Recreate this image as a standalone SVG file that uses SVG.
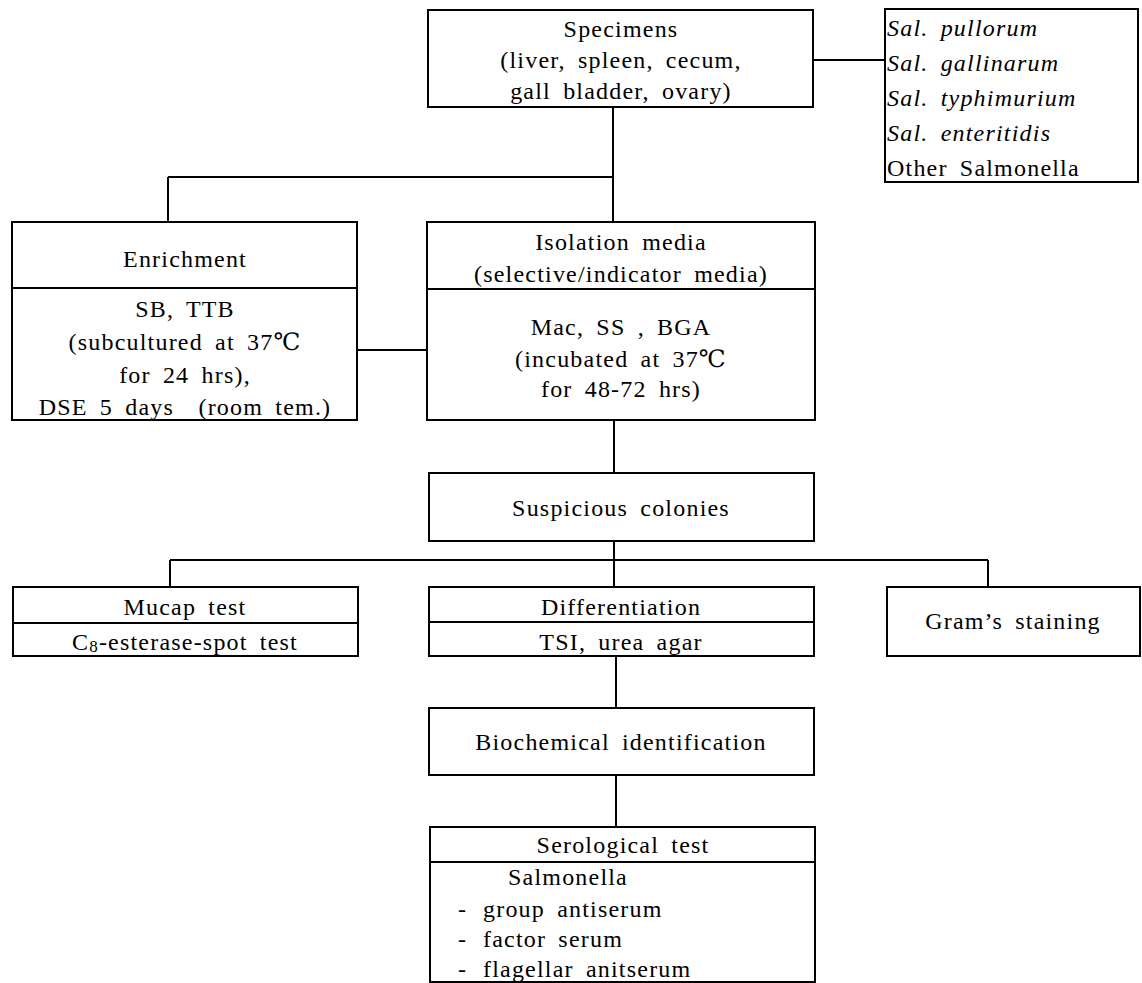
<svg xmlns="http://www.w3.org/2000/svg" width="1142" height="983" viewBox="0 0 1142 983">
<style>
.b{fill:#fff;stroke:#000;stroke-width:2}
.d{stroke:#000;stroke-width:2;fill:none}
.t text{font-size:24px;fill:#000;letter-spacing:1.2px;word-spacing:5px}
.c{text-anchor:middle}
.i{font-style:italic}
</style>
<rect width="1142" height="983" fill="#fff"/>
<g id="connectors" class="d">
<path d="M813,60H885"/>
<path d="M613,107V222"/>
<path d="M168,177H613"/>
<path d="M168,177V222"/>
<path d="M357,350H427"/>
<path d="M614,420V473"/>
<path d="M614,541V587"/>
<path d="M170,560H988"/>
<path d="M170,560V587"/>
<path d="M988,560V587"/>
<path d="M616,656V708"/>
<path d="M616,775V827"/>
</g>
<g class="t" font-family="'Liberation Serif', 'DejaVu Serif', serif">
<g id="specimens">
<rect class="b" x="428" y="10" width="385" height="97"/>
<text class="c" x="621" y="37">Specimens</text>
<text class="c" x="621" y="68">(liver, spleen, cecum,</text>
<text class="c" x="621" y="99">gall bladder, ovary)</text>
</g>
<g id="species">
<rect class="b" x="885" y="9" width="253" height="173"/>
<text x="887" y="36" class="i">Sal. pullorum</text>
<text x="887" y="71" class="i">Sal. gallinarum</text>
<text x="887" y="106" class="i">Sal. typhimurium</text>
<text x="887" y="141" class="i">Sal. enteritidis</text>
<text x="887" y="176">Other Salmonella</text>
</g>
<g id="enrichment">
<rect class="b" x="12" y="222" width="345" height="198"/>
<path class="d" d="M12,288H357"/>
<text class="c" x="185" y="267">Enrichment</text>
<text class="c" x="185" y="317">SB, TTB</text>
<text class="c" x="185" y="350">(subcultured at 37℃</text>
<text class="c" x="185" y="383">for 24 hrs),</text>
<text class="c" x="185" y="415">DSE 5 days &#160;(room tem.)</text>
</g>
<g id="isolation">
<rect class="b" x="427" y="222" width="388" height="198"/>
<path class="d" d="M427,289H815"/>
<text class="c" x="621" y="250">Isolation media</text>
<text class="c" x="621" y="282">(selective/indicator media)</text>
<text class="c" x="621" y="335">Mac, SS , BGA</text>
<text class="c" x="621" y="367">(incubated at 37℃</text>
<text class="c" x="621" y="397">for 48-72 hrs)</text>
</g>
<g id="suspicious">
<rect class="b" x="429" y="473" width="385" height="68"/>
<text class="c" x="621" y="516">Suspicious colonies</text>
</g>
<g id="mucap">
<rect class="b" x="13" y="587" width="345" height="69"/>
<path class="d" d="M13,623H358"/>
<text class="c" x="185" y="615">Mucap test</text>
<text class="c" x="185" y="650">C<tspan font-size="17" dy="2">8</tspan><tspan dy="-2">-esterase-spot test</tspan></text>
</g>
<g id="differentiation">
<rect class="b" x="429" y="587" width="385" height="69"/>
<path class="d" d="M429,622H814"/>
<text class="c" x="621" y="615">Differentiation</text>
<text class="c" x="621" y="650">TSI, urea agar</text>
</g>
<g id="gram">
<rect class="b" x="887" y="587" width="253" height="69"/>
<text class="c" x="1013" y="629">Gram’s staining</text>
</g>
<g id="biochemical">
<rect class="b" x="429" y="708" width="385" height="67"/>
<text class="c" x="621" y="750">Biochemical identification</text>
</g>
<g id="serological">
<rect class="b" x="430" y="827" width="385" height="155"/>
<path class="d" d="M430,862H815"/>
<text class="c" x="623" y="853">Serological test</text>
<text x="508" y="885">Salmonella</text>
<text x="458" y="917">-<tspan x="483">group antiserum</tspan></text>
<text x="458" y="947">-<tspan x="483">factor serum</tspan></text>
<text x="458" y="977">-<tspan x="483">flagellar anitserum</tspan></text>
</g>
</g>
</svg>
